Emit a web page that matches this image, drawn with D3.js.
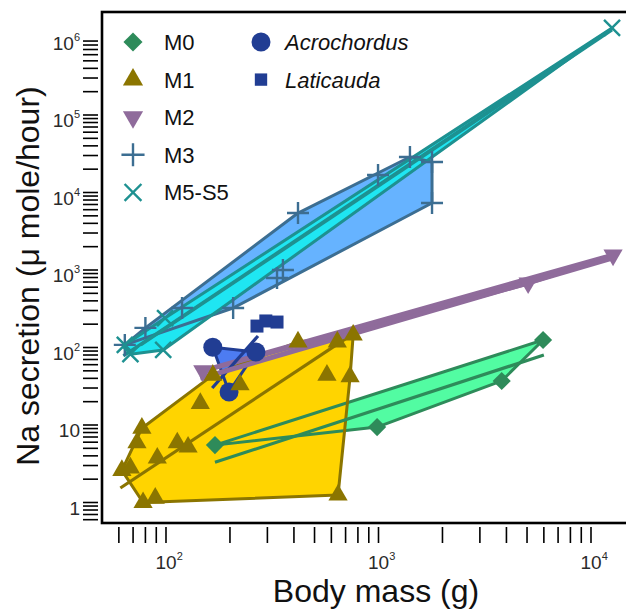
<!DOCTYPE html>
<html>
<head>
<meta charset="utf-8">
<script src="https://cdn.jsdelivr.net/npm/d3@7"></script>
<style>
  body { margin: 0; background: #fff; }
  text { font-family: "Liberation Sans", Arial, sans-serif; }
</style>
</head>
<body>
<script>
// data: [body mass (g), Na secretion (umol/h)]
var m0 = [[170, 5.5], [985, 9.4], [3800, 37], [5950, 125]];
var m1 = [[62, 2.6], [68, 2.8], [73, 5.9], [77, 9.1], [78, 1.0], [89, 1.14], [91, 3.75],
          [113, 5.9], [127, 5.2], [145, 19], [166, 44], [223, 33], [418, 118], [572, 44],
          [640, 118], [735, 42], [760, 145], [645, 1.25]];
var m2 = [[149, 50], [5060, 680], [12700, 1560]];
var m3 = [[64, 108], [80, 179], [119, 323], [207, 323], [333, 790], [355, 1000], [418, 5430],
          [995, 16800], [1406, 28700], [1786, 24800], [1786, 7330]];
var m5 = [[64, 108], [68, 82], [97, 93], [99, 240], [12560, 1330000]];
var acro = [[166, 101], [265, 87.5], [198, 26.7]];
var lati = [[268, 189], [295, 220], [333, 213]];

// fitted lines (end points)
var m0Fits = [[[170, 3.3], [6000, 80]]];
var m1Fits = [[[61, 1.54], [710, 133]]];
var m2Fits = [[[145, 40], [12700, 1430]]];
var m5Fits = [[[63, 78], [12560, 1300000]], [[76, 108], [12560, 1250000]]];
var acroFits = [[[165, 30], [271, 141]]];

var xLabels = [100, 1000, 10000];
var yLabels = [1, 10, 100, 1000, 10000, 100000, 1000000];
var legendNames = ["M0", "M1", "M2", "M3", "M5-S5"];
var legendNames2 = ["Acrochordus", "Laticauda"];

var width = 626, height = 609;

var svg = d3.select("body").append("svg")
    .attr("width", width)
    .attr("height", height);

var x = d3.scaleLog().domain([100, 10000]).range([166, 591]);
var y = d3.scaleLog().domain([1, 1000000]).range([502.5, 37.5]);

var pt = function(d){ return [x(d[0]), y(d[1])]; };

// groups: fill, edge / marker colour
var groups = [
    {data: m0, fill: "#52fca2", col: "#2e8b5a", fits: m0Fits, shape: "diamond"},
    {data: acro, fill: "#4d7cf2", col: "#213d93", fits: acroFits, shape: "circle"},
    {data: m1, fill: "#ffd400", col: "#8b7500", fits: m1Fits, shape: "tri"},
    {data: m2, fill: "#8f6b9b", col: "#8f6b9b", fits: m2Fits, shape: "itri"},
    {data: m3, fill: "#66b3ff", col: "#3c6e92", fits: [], shape: "plus"},
    {data: m5, fill: "#1fe6f2", col: "#1e9191", fits: m5Fits, shape: "cross"}
];

// frame
svg.append("rect")
    .attr("x", 102).attr("y", 12)
    .attr("width", 620).attr("height", 511)
    .attr("fill", "none")
    .attr("stroke", "#000")
    .attr("stroke-width", 2.6);

// ticks
var yTicks = [];
[-1, 0, 1, 2, 3, 4, 5].forEach(function(e){
    for (var m = 1; m < 10; m++) {
        var v = m * Math.pow(10, e);
        if (v >= 0.6 && v <= 1000000) yTicks.push(v);
    }
});
var xTicks = [];
[1, 2, 3, 4].forEach(function(e){
    for (var m = 1; m < 10; m++) {
        var v = m * Math.pow(10, e);
        if (v >= 60 && v <= 10000) xTicks.push(v);
    }
});

svg.selectAll(".ytick").data(yTicks).enter().append("line")
    .attr("class", "ytick")
    .attr("x1", 83).attr("x2", 98)
    .attr("y1", function(d){ return y(d); })
    .attr("y2", function(d){ return y(d); })
    .attr("stroke", "#000").attr("stroke-width", 1.6);

svg.selectAll(".xtick").data(xTicks).enter().append("line")
    .attr("class", "xtick")
    .attr("y1", 527).attr("y2", 543)
    .attr("x1", function(d){ return x(d); })
    .attr("x2", function(d){ return x(d); })
    .attr("stroke", "#000").attr("stroke-width", 1.6);

// tick labels
function expOf(v){ return Math.round(Math.log10(v)); }

svg.selectAll(".ylab").data(yLabels).enter().append("text")
    .attr("class", "ylab")
    .attr("x", 80)
    .attr("y", function(d){ return y(d) + 12; })
    .attr("text-anchor", "end")
    .attr("font-size", 19)
    .attr("fill", "#2a2a2a")
    .each(function(d){
        var t = d3.select(this);
        var e = expOf(d);
        if (e <= 1) { t.text(d); return; }
        t.append("tspan").text("10");
        t.append("tspan").attr("font-size", 11).attr("dy", -9).text(e);
    });

svg.selectAll(".xlab").data(xLabels).enter().append("text")
    .attr("class", "xlab")
    .attr("x", function(d){ return x(d) - 10.5; })
    .attr("y", 569)
    .attr("font-size", 19)
    .attr("fill", "#2a2a2a")
    .each(function(d){
        var t = d3.select(this);
        t.append("tspan").text("10");
        t.append("tspan").attr("font-size", 11).attr("dy", -9).text(expOf(d));
    });

// axis titles
svg.append("text")
    .attr("transform", "translate(39,276) rotate(-90)")
    .attr("text-anchor", "middle")
    .attr("font-size", 32)
    .attr("fill", "#111")
    .text("Na secretion (\u03bc mole/hour)");

svg.append("text")
    .attr("x", 376).attr("y", 602)
    .attr("text-anchor", "middle")
    .attr("font-size", 32)
    .attr("fill", "#111")
    .text("Body mass (g)");

// hulls: fills first, then edges
var hulls = groups.map(function(g){ return d3.polygonHull(g.data.map(pt)); });

svg.selectAll(".hullfill").data(groups).enter().append("path")
    .attr("class", "hullfill")
    .attr("d", function(g, i){ return "M" + hulls[i].join("L") + "Z"; })
    .attr("fill", function(g){ return g.fill; })
    .attr("stroke", "none");

svg.selectAll(".hulledge").data(groups).enter().append("path")
    .attr("class", "hulledge")
    .attr("d", function(g, i){ return "M" + hulls[i].join("L") + "Z"; })
    .attr("fill", "none")
    .attr("stroke", function(g){ return g.col; })
    .attr("stroke-width", function(g){ return g.shape == "itri" ? 5 : 3; })
    .attr("stroke-linejoin", "round");

// fitted lines
var line = d3.line().x(function(d){ return x(d[0]); }).y(function(d){ return y(d[1]); });
groups.forEach(function(g){
    svg.selectAll(null).data(g.fits).enter().append("path")
        .attr("d", line)
        .attr("fill", "none")
        .attr("stroke", g.col)
        .attr("stroke-width", g.shape == "itri" ? 5 : 3.2);
});

// markers
function drawMarker(sel, shape, col, s){
    s = s || 1;
    if (shape == "diamond") {
        sel.append("path").attr("d", d3.symbol(d3.symbolSquare, 165 * s * s)())
            .attr("transform", "rotate(45)").attr("fill", col);
    } else if (shape == "tri") {
        sel.append("path").attr("d", d3.symbol(d3.symbolTriangle, 160 * s * s)())
            .attr("fill", col);
    } else if (shape == "itri") {
        sel.append("path").attr("d", d3.symbol(d3.symbolTriangle, 160 * s * s)())
            .attr("transform", "rotate(180)").attr("fill", col);
    } else if (shape == "circle") {
        sel.append("circle").attr("r", 9.5 * s).attr("fill", col);
    } else if (shape == "square") {
        sel.append("rect").attr("x", -6.5 * s).attr("y", -6.5 * s)
            .attr("width", 13 * s).attr("height", 13 * s).attr("fill", col);
    } else if (shape == "plus") {
        var a = 11 * s;
        sel.append("path").attr("d", "M" + -a + ",0H" + a + "M0," + -a + "V" + a)
            .attr("stroke", col).attr("stroke-width", 2.4).attr("fill", "none");
    } else if (shape == "cross") {
        var b = 8 * s;
        sel.append("path").attr("d", "M" + -b + "," + -b + "L" + b + "," + b + "M" + -b + "," + b + "L" + b + "," + -b)
            .attr("stroke", col).attr("stroke-width", 2.4).attr("fill", "none");
    }
}

var allMarkers = groups.concat([{data: lati, col: "#213d93", shape: "square"}]);
allMarkers.forEach(function(g){
    svg.selectAll(null).data(g.data).enter().append("g")
        .attr("transform", function(d){ return "translate(" + pt(d) + ")"; })
        .each(function(){ drawMarker(d3.select(this), g.shape, g.col); });
});

// legend
var legShapes = ["diamond", "tri", "itri", "plus", "cross"];
var legCols = ["#2e8b5a", "#8b7500", "#8f6b9b", "#3c6e92", "#1e9191"];
var leg = svg.append("g");
legendNames.forEach(function(n, i){
    var yy = 42 + i * 37.6;
    var gm = leg.append("g").attr("transform", "translate(133," + yy + ")");
    drawMarker(gm, legShapes[i], legCols[i], 1.05);
    leg.append("text").attr("x", 164).attr("y", yy + 8)
        .attr("font-size", 22).attr("fill", "#111").text(n);
});
var leg2Shapes = ["circle", "square"];
legendNames2.forEach(function(n, i){
    var yy = 42 + i * 37.6;
    var gm = leg.append("g").attr("transform", "translate(261," + yy + ")");
    drawMarker(gm, leg2Shapes[i], "#213d93", i == 0 ? 1.0 : 0.95);
    leg.append("text").attr("x", 285).attr("y", yy + 8)
        .attr("font-size", 22).attr("font-style", "italic").attr("fill", "#111").text(n);
});
</script>
</body>
</html>
